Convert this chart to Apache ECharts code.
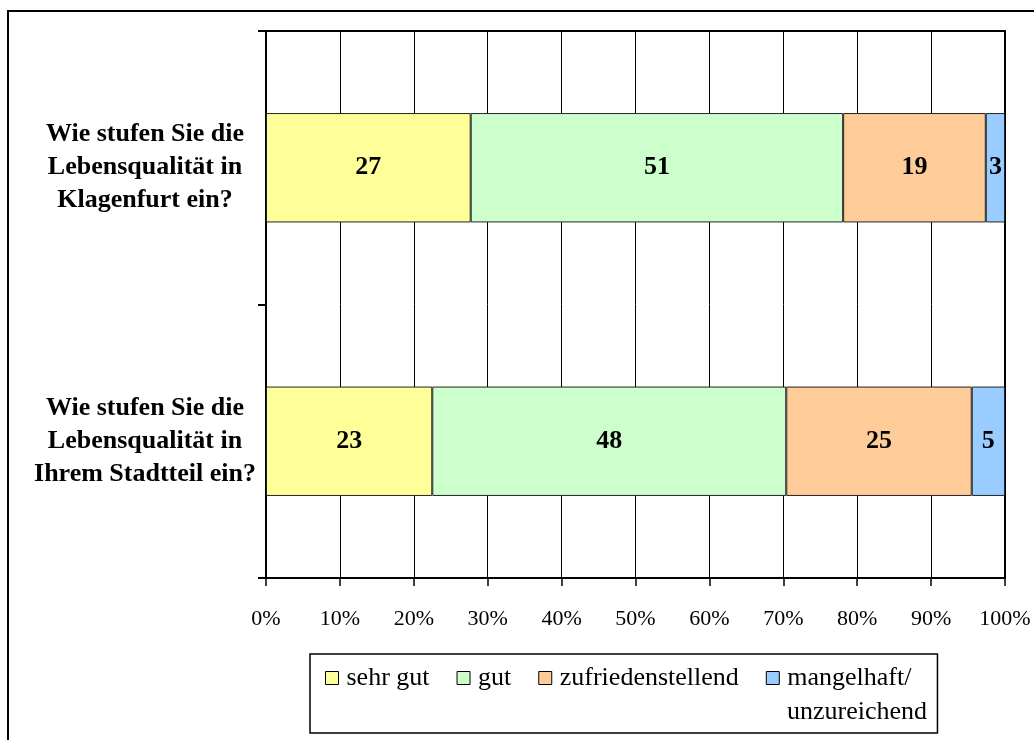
<!DOCTYPE html>
<html>
<head>
<meta charset="utf-8">
<script src="https://cdn.jsdelivr.net/npm/echarts@6/dist/echarts.min.js"></script>
<style>
  html, body { margin: 0; padding: 0; background: #fff; }
  #chart { width: 1034px; height: 740px; }
</style>
</head>
<body>
<div id="chart"></div>
<script>
// Fragen (Kategorien), oben nach unten
const categories = [
  "Wie stufen Sie die\nLebensqualität in\nKlagenfurt ein?",
  "Wie stufen Sie die\nLebensqualität in\nIhrem Stadtteil ein?"
];
const seriesNames = ["sehr gut", "gut", "zufriedenstellend", "mangelhaft/unzureichend"];

// Anteile in % (Balkenlänge)
const sehrGut = [27.7, 22.5];
const gut = [50.4, 47.9];
const zufrieden = [19.3, 25.1];
const mangelhaft = [2.6, 4.5];

// angezeigte Werte (Beschriftung)
const sehrGutLabel = [27, 23];
const gutLabel = [51, 48];
const zufriedenLabel = [19, 25];
const mangelhaftLabel = [3, 5];

const xTicks = [0, 10, 20, 30, 40, 50, 60, 70, 80, 90, 100];

const colors = ["#FFFF99", "#CCFFCC", "#FFCC99", "#99CCFF"];
const serif = '"Liberation Serif", "Times New Roman", serif';

const chart = echarts.init(document.getElementById("chart"));

function makeSeries(name, data, labels, color) {
  return {
    name: name,
    type: "bar",
    stack: "total",
    data: data,
    barCategoryGap: "60%",
    itemStyle: { color: color, borderColor: "#222", borderWidth: 1 },
    label: {
      show: true,
      position: "inside",
      formatter: p => String(labels[p.dataIndex]),
      color: "#000",
      fontFamily: serif,
      fontWeight: "bold",
      fontSize: 26
    },
    emphasis: { disabled: true }
  };
}

const option = {
  animation: false,
  backgroundColor: "#fff",
  grid: {
    left: 266,
    right: 29,
    top: 31,
    bottom: 162,
    show: true,
    borderColor: "#000",
    borderWidth: 2,
    backgroundColor: "transparent"
  },
  xAxis: {
    type: "value",
    min: xTicks[0],
    max: xTicks[xTicks.length - 1],
    interval: 10,
    axisLine: { show: true, lineStyle: { color: "#000", width: 2 } },
    axisTick: { show: true, length: 8, lineStyle: { color: "#000", width: 1.5 } },
    splitLine: { show: true, lineStyle: { color: "#000", width: 1 } },
    axisLabel: {
      formatter: "{value}%",
      color: "#000",
      fontFamily: serif,
      fontSize: 22,
      lineHeight: 24,
      margin: 29
    }
  },
  yAxis: {
    type: "category",
    data: categories,
    inverse: true,
    axisLine: { show: true, lineStyle: { color: "#000", width: 2 } },
    axisTick: { show: true, length: 8, lineStyle: { color: "#000", width: 2 } },
    axisLabel: {
      color: "#000",
      fontFamily: serif,
      fontWeight: "bold",
      fontSize: 26,
      lineHeight: 33,
      align: "center",
      margin: 121
    }
  },
  legend: {
    left: 310,
    top: 654,
    orient: "horizontal",
    icon: "rect",
    itemWidth: 13,
    itemHeight: 13,
    itemGap: 27,
    padding: [9, 26, 40, 15],
    borderColor: "#000",
    borderWidth: 1.5,
    selectedMode: false,
    itemStyle: { borderColor: "#000", borderWidth: 1 },
    formatter: name => name === "mangelhaft/unzureichend" ? "mangelhaft/" : name,
    textStyle: {
      color: "#000",
      fontFamily: serif,
      fontSize: 26,
      lineHeight: 30,
      padding: [0, 0, 0, 3]
    },
    data: seriesNames
  },
  graphic: [
    {
      type: "rect",
      silent: true,
      shape: { x: 8, y: 11, width: 1100, height: 800 },
      style: { fill: "none", stroke: "#000", lineWidth: 2 }
    },
    {
      type: "text",
      left: 787,
      top: 699,
      silent: true,
      style: { text: "unzureichend", fill: "#000", font: '26px "Liberation Serif", serif' }
    }
  ],
  series: [
    makeSeries(seriesNames[0], sehrGut, sehrGutLabel, colors[0]),
    makeSeries(seriesNames[1], gut, gutLabel, colors[1]),
    makeSeries(seriesNames[2], zufrieden, zufriedenLabel, colors[2]),
    makeSeries(seriesNames[3], mangelhaft, mangelhaftLabel, colors[3])
  ]
};

chart.setOption(option);
window.addEventListener("resize", function() {
  chart.resize();
});
</script>
</body>
</html>
